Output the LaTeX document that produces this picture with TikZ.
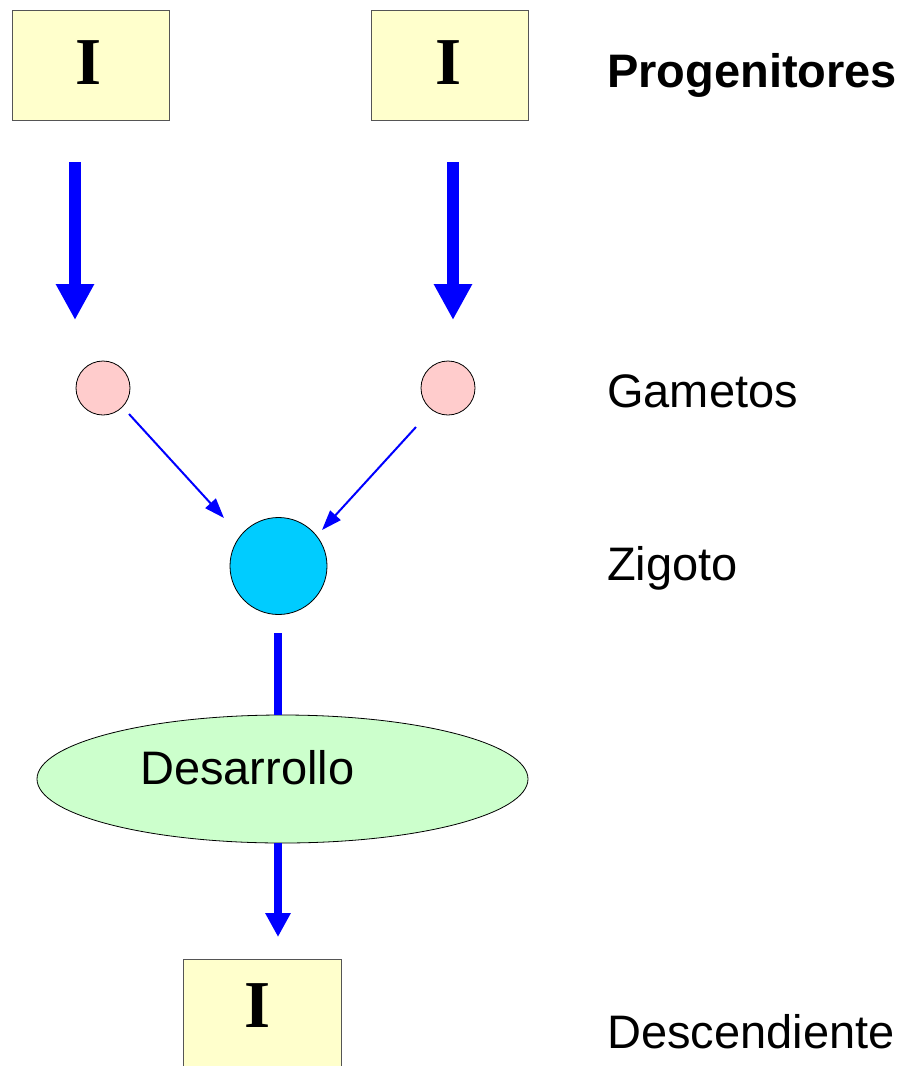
\documentclass[tikz,border=0pt]{standalone}
\usepackage{fontspec}
\setmainfont{Liberation Sans}
\newfontfamily\serifI{Liberation Serif}
\usetikzlibrary{arrows.meta,shapes.geometric}
\definecolor{boxfill}{HTML}{FFFFCC}
\definecolor{boxline}{HTML}{555555}
\definecolor{gamfill}{HTML}{FFCCCC}
\definecolor{zigfill}{HTML}{00CCFF}
\definecolor{desfill}{HTML}{CCFFCC}
\definecolor{arrblue}{HTML}{0000FF}
\tikzset{
  indbox/.style={draw=boxline, line width=1pt, fill=boxfill, inner sep=0pt},
  indtxt/.style={inner sep=0pt, anchor=base, font=\serifI\bfseries\fontsize{67}{70}\selectfont},
  lbl/.style={inner sep=0pt, anchor=base west, font=\fontsize{47}{52}\selectfont},
  gamete/.style={circle, draw=black, line width=0.8pt, fill=gamfill, minimum size=54pt, inner sep=0pt},
  zigote/.style={circle, draw=black, line width=0.8pt, fill=zigfill, minimum size=97pt, inner sep=0pt},
  bigarrow/.style={draw=arrblue, line width=12pt, -{Triangle[width=36pt,length=36pt]}},
  thinarrow/.style={draw=arrblue, line width=2pt, -{Triangle[width=14pt,length=20pt]}},
  midarrow/.style={draw=arrblue, line width=8pt, -{Triangle[width=24pt,length=24pt]}},
  midline/.style={draw=arrblue, line width=8pt},
}
\begin{document}
\begin{tikzpicture}[x=1pt,y=-1pt]
\clip (0,0) rectangle (913,1066);
\useasboundingbox (0,0) rectangle (913,1066);
% parent boxes
\node[indbox, minimum width=157pt, minimum height=110pt] (p1) at (91,65.5) {};
\node[indbox, minimum width=157pt, minimum height=110pt] (p2) at (450,65.5) {};
\node[indtxt] (p1t) at (89,84) {I};
\node[indtxt] (p2t) at (449,84) {I};
% big arrows
\coordinate (a1s) at (75,162);
\coordinate (a1e) at (75,320);
\coordinate (a2s) at (453,162);
\coordinate (a2e) at (453,320);
\draw[bigarrow] (a1s) -- (a1e);
\draw[bigarrow] (a2s) -- (a2e);
% gametes
\node[gamete] (g1) at (103,388) {};
\node[gamete] (g2) at (448,388) {};
% zygote
\node[zigote] (z) at (278.5,566) {};
% thin arrows
\coordinate (t1s) at (129,414);
\coordinate (t1e) at (224,518);
\coordinate (t2s) at (416,427);
\coordinate (t2e) at (322,530);
\draw[thinarrow] (t1s) -- (t1e);
\draw[thinarrow] (t2s) -- (t2e);
% development
\node[ellipse, draw=black, line width=0.8pt, fill=desfill, minimum width=491pt, minimum height=128pt, inner sep=0pt] (d) at (282.5,779) {};
\coordinate (zl) at (278,633);
\coordinate (dt) at (278,715);
\draw[midline] (zl) -- (dt);
\node[lbl] (dtxt) at (140,784) {Desarrollo};
\coordinate (db) at (278,843);
\coordinate (ae) at (278,937);
\draw[midarrow] (db) -- (ae);
% offspring
\node[indbox, minimum width=158pt, minimum height=130pt] (o) at (262,1024) {};
\node[indtxt] (ot) at (258,1027) {I};
% labels
\node[lbl, font=\bfseries\fontsize{47}{52}\selectfont] (l1) at (607,87) {Progenitores};
\node[lbl] (l2) at (607,407) {Gametos};
\node[lbl] (l3) at (607,580) {Zigoto};
\node[lbl] (l4) at (607,1048) {Descendiente};
\end{tikzpicture}
\end{document}
